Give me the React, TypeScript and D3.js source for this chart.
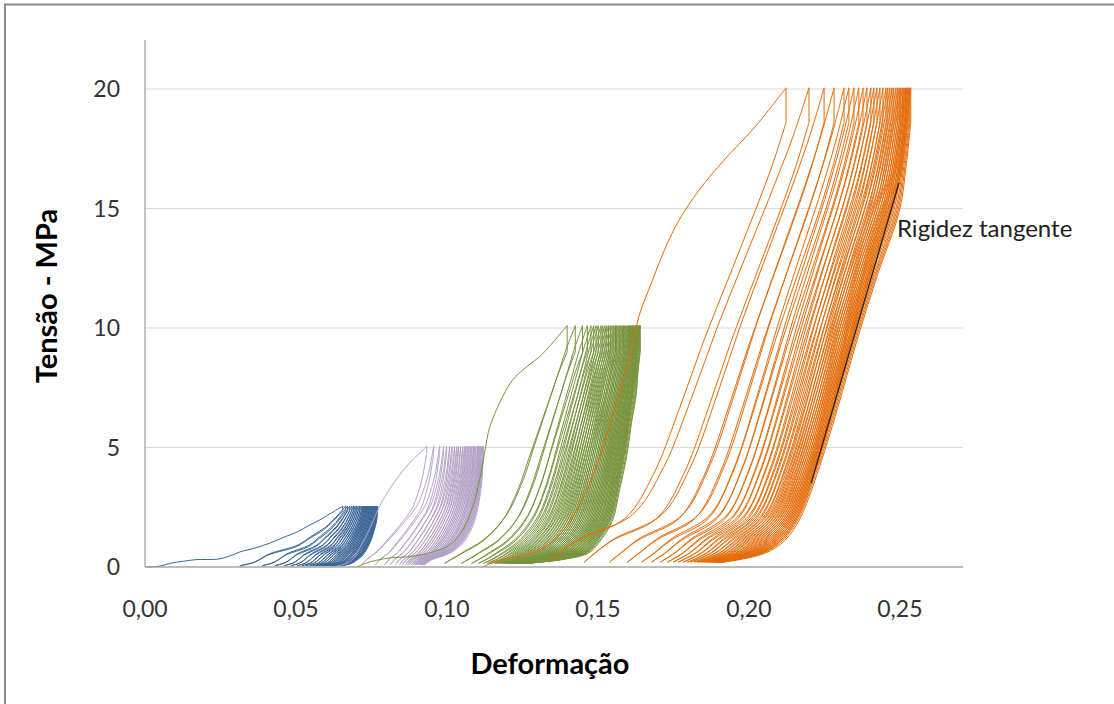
import React from 'react';
import * as d3 from 'd3';

// ---------- axes ----------
const X_MAX = 0.2709;
const Y_MAX = 22.05;
const xTickValues = [0, 0.05, 0.1, 0.15, 0.2, 0.25];
const yTickValues = [0, 5, 10, 15, 20];

// normalized stress grid for loop shapes (0 = min stress, 1 = top stress)
const V_GRID = [0, 0.02, 0.05, 0.1, 0.2, 0.35, 0.5, 0.65, 0.8, 0.9, 1];

// ---------- blue (2,5 MPa) ----------
const blueVirgin = [[0, 0], [0.005, 0.04], [0.0089, 0.17], [0.0132, 0.25], [0.0172, 0.31], [0.0241, 0.33], [0.0281, 0.46], [0.0314, 0.63], [0.0364, 0.79], [0.0413, 1.0], [0.0463, 1.26], [0.0503, 1.46], [0.0546, 1.76], [0.0579, 1.97], [0.0612, 2.22], [0.0655, 2.55]];
const bluePeaks = [0.0655, 0.0665, 0.0671, 0.0678, 0.0685, 0.0691, 0.0696, 0.0701, 0.0706, 0.0711, 0.0716, 0.0721, 0.0724, 0.0728, 0.0731, 0.0734, 0.0737, 0.0741, 0.0744, 0.0747, 0.0751, 0.0754, 0.0757, 0.0761, 0.0764, 0.0767, 0.0769, 0.077];
const blueValleys = [0.0314, 0.0387, 0.043, 0.046, 0.0483, 0.0503, 0.0519, 0.0532, 0.0546, 0.0556, 0.0565, 0.0575, 0.0582, 0.0589, 0.0595, 0.0602, 0.0608, 0.0612, 0.0618, 0.0622, 0.0625, 0.0632, 0.0635, 0.0638, 0.0642, 0.0645, 0.0648, 0.0651];
const blueShapeEarly = [0, 0.05, 0.12, 0.18, 0.28, 0.55, 0.68, 0.81, 0.9, 0.95, 1];
const blueShapeLate = [0, 0.15, 0.3, 0.42, 0.6, 0.74, 0.84, 0.91, 0.97, 0.99, 1];

// ---------- purple (5 MPa) ----------
const purpleVirgin = [[0.0612, 0], [0.0651, 0.08], [0.0685, 0.29], [0.0711, 0.8], [0.0734, 1.34], [0.0754, 1.88], [0.0777, 2.55], [0.081, 3.26], [0.0843, 3.85], [0.0876, 4.35], [0.0903, 4.69], [0.0933, 5.05]];
const purplePeaks = [0.0933, 0.0956, 0.0976, 0.0989, 0.0999, 0.1009, 0.1017, 0.1025, 0.1032, 0.1038, 0.1045, 0.1052, 0.1058, 0.1063, 0.1068, 0.1073, 0.1078, 0.1083, 0.1088, 0.1091, 0.1096, 0.1101, 0.1104, 0.1108, 0.1111, 0.1114, 0.1118, 0.1121];
const purpleValleys = [0.0718, 0.0764, 0.0794, 0.0813, 0.083, 0.0843, 0.0853, 0.0863, 0.087, 0.0876, 0.0883, 0.0888, 0.0893, 0.0896, 0.0899, 0.0903, 0.0906, 0.0909, 0.0911, 0.0913, 0.0914, 0.0916, 0.0918, 0.0919, 0.0921, 0.0923, 0.0924, 0.0926];
const purpleShapeEarly = [0, 0.03, 0.08, 0.2, 0.36, 0.58, 0.77, 0.87, 0.94, 0.97, 1];
const purpleShapeLate = [0, 0.05, 0.15, 0.42, 0.66, 0.82, 0.9, 0.95, 0.98, 0.99, 1];

// ---------- green (10 MPa) ----------
const greenVirgin = [[0.0701, 0], [0.0744, 0.21], [0.081, 0.38], [0.0866, 0.42], [0.0942, 0.59], [0.1009, 0.92], [0.1052, 1.55], [0.1085, 2.51], [0.1108, 3.64], [0.1128, 5.02], [0.1141, 5.82], [0.1174, 6.86], [0.1217, 7.82], [0.1263, 8.37], [0.1306, 8.79], [0.1349, 9.37], [0.1398, 10.1]];
const greenPeaks = [0.1398, 0.1425, 0.1449, 0.1465, 0.1477, 0.1486, 0.1494, 0.1501, 0.151, 0.1516, 0.1523, 0.1529, 0.1535, 0.1541, 0.1547, 0.1553, 0.1558, 0.1562, 0.1567, 0.1572, 0.1576, 0.1581, 0.1585, 0.1589, 0.1593, 0.1597, 0.1601, 0.1604, 0.1607, 0.161, 0.1613, 0.1615, 0.1618, 0.162, 0.1624, 0.1626, 0.1628, 0.163, 0.1632, 0.1635, 0.1637, 0.1639, 0.164];
const greenValleys = [0.0992, 0.1048, 0.1081, 0.1104, 0.1121, 0.1134, 0.1146, 0.1156, 0.1164, 0.1172, 0.1179, 0.1186, 0.1192, 0.1197, 0.1202, 0.1207, 0.121, 0.1214, 0.1217, 0.122, 0.1224, 0.1226, 0.1228, 0.1231, 0.1233, 0.1235, 0.1237, 0.1239, 0.1241, 0.1243, 0.1245, 0.1247, 0.1248, 0.125, 0.1251, 0.1253, 0.1254, 0.1255, 0.1257, 0.1258, 0.1259, 0.1261, 0.1262];
const greenShapeEarly = [0, 0.06, 0.15, 0.3, 0.47, 0.6, 0.69, 0.78, 0.87, 0.93, 1];
const greenShapeLate = [0, 0.34, 0.55, 0.64, 0.755, 0.82, 0.88, 0.92, 0.965, 0.98, 1];

// ---------- orange (20 MPa) ----------
const orangeVirgin = [[0.1118, 0], [0.1174, 0.29], [0.124, 0.46], [0.1306, 0.71], [0.1356, 1.13], [0.1405, 1.88], [0.1455, 3.01], [0.1505, 4.56], [0.1554, 6.57], [0.1604, 8.74], [0.1637, 10.54], [0.1677, 11.88], [0.172, 13.26], [0.1769, 14.52], [0.1835, 15.77], [0.1918, 17.03], [0.2017, 18.37], [0.2123, 20.05]];
const orangePeaks = [0.2123, 0.2199, 0.2249, 0.2282, 0.2315, 0.2331, 0.2348, 0.2364, 0.2378, 0.2391, 0.2404, 0.2414, 0.2424, 0.2434, 0.2444, 0.2454, 0.246, 0.2467, 0.2474, 0.248, 0.2487, 0.2493, 0.2498, 0.2503, 0.2508, 0.2513, 0.2517, 0.252, 0.2523, 0.2527, 0.253, 0.2533, 0.2536];
const orangeValleys = [0.1339, 0.1455, 0.1538, 0.1597, 0.1644, 0.1677, 0.1706, 0.173, 0.1749, 0.1766, 0.1782, 0.1796, 0.1807, 0.1819, 0.1829, 0.1837, 0.1845, 0.1852, 0.1858, 0.1865, 0.187, 0.1875, 0.188, 0.1885, 0.1888, 0.1892, 0.1895, 0.1898, 0.1901, 0.1905, 0.1908, 0.1911, 0.1915];
const orangeShapeEarly = [0, 0.04, 0.12, 0.32, 0.44, 0.55, 0.65, 0.76, 0.87, 0.94, 1];
const orangeShapeLate = [0, 0.22, 0.33, 0.41, 0.5, 0.61, 0.71, 0.82, 0.94, 0.975, 1];

// tangent stiffness annotation
const tangentLine = [[0.2206, 3.51], [0.2497, 16.07]];
const annotationText = 'Rigidez tangente';

const SERIES = [
  { color: '#3A6596', virgin: blueVirgin, peaks: bluePeaks, valleys: blueValleys, early: blueShapeEarly, late: blueShapeLate, top: 2.55, drop: 2.35, min: 0.05 },
  { color: '#B3A2C7', virgin: purpleVirgin, peaks: purplePeaks, valleys: purpleValleys, early: purpleShapeEarly, late: purpleShapeLate, top: 5.05, drop: 4.75, min: 0.1 },
  { color: '#77933C', virgin: greenVirgin, peaks: greenPeaks, valleys: greenValleys, early: greenShapeEarly, late: greenShapeLate, top: 10.1, drop: 9.0, min: 0.15 },
  { color: '#E46C0A', virgin: orangeVirgin, peaks: orangePeaks, valleys: orangeValleys, early: orangeShapeEarly, late: orangeShapeLate, top: 20.05, drop: 18.6, min: 0.2 },
];

const FONT = 'Lato, "Open Sans", sans-serif';

export default function App() {
  const x = d3.scaleLinear().domain([0, X_MAX]).range([145, 963]);
  const y = d3.scaleLinear().domain([0, Y_MAX]).range([567, 40]);
  const line = d3
    .line<number[]>()
    .x((d) => x(d[0]))
    .y((d) => y(d[1]))
    .curve(d3.curveCatmullRom.alpha(0.5));
  const straight = d3
    .line<number[]>()
    .x((d) => x(d[0]))
    .y((d) => y(d[1]));

  const fmt = (v: number) => d3.format('.2f')(v).replace('.', ',');

  const paths = SERIES.map((s) => {
    const n = s.peaks.length;
    const shape = (i: number) => {
      const t = Math.max(0, Math.min(1, i / (n - 1)));
      return s.early.map((e, k) => e * (1 - t) + s.late[k] * t);
    };
    const branch = (valley: number, peak: number, topS: number, u: number[]) =>
      V_GRID.map((v, k) => [valley + (peak - valley) * u[k], s.min + (topS - s.min) * v]);
    let d = line(s.virgin) || '';
    for (let i = 0; i < n; i++) {
      const p = s.peaks[i];
      const q = s.valleys[i];
      if (i > 0) {
        d += line(branch(s.valleys[i - 1], p, s.top, shape(i - 1))) || '';
      }
      d += straight([[p, s.top], [p, s.drop]]) || '';
      d += line(branch(q, p, s.drop, shape(i))) || '';
    }
    return { d, color: s.color };
  });

  return (
    <svg
      width={1114}
      height={704}
      style={{ position: 'absolute', left: 0, top: 0, display: 'block', background: '#fff' }}
    >
      <rect x={0} y={0} width={1114} height={704} fill="#fff" />
      <rect x={5} y={4.5} width={1130} height={720} fill="none" stroke="#8a8a8a" strokeWidth={2} />

      {/* gridlines */}
      {yTickValues.filter((v) => v > 0).map((v) => (
        <line key={'g' + v} x1={x(0)} x2={963} y1={y(v)} y2={y(v)} stroke="#DADADA" strokeWidth={1} />
      ))}
      {/* axes */}
      <line x1={x(0)} x2={x(0)} y1={40} y2={y(0)} stroke="#A6A6A6" strokeWidth={1.3} />

      {/* data */}
      {paths.map((p, i) => (
        <path key={i} d={p.d} fill="none" stroke={p.color} strokeWidth={1} strokeLinejoin="round" />
      ))}

      <line x1={x(0)} x2={963} y1={y(0)} y2={y(0)} stroke="#A6A6A6" strokeWidth={1.3} />

      {/* tangent line */}
      <path d={straight(tangentLine) || ''} stroke="#222" strokeWidth={1.3} fill="none" />
      <text x={897} y={237} fontFamily={FONT} fontSize={24} fill="#222">
        {annotationText}
      </text>

      {/* tick labels */}
      {yTickValues.map((v) => (
        <text key={'y' + v} x={120} y={y(v)} dy="0.35em" textAnchor="end" fontFamily={FONT} fontSize={23} fill="#333">
          {v}
        </text>
      ))}
      {xTickValues.map((v) => (
        <text key={'x' + v} x={x(v)} y={617} textAnchor="middle" fontFamily={FONT} fontSize={23} fill="#333">
          {fmt(v)}
        </text>
      ))}

      {/* axis titles */}
      <text x={550} y={674} textAnchor="middle" fontFamily={FONT} fontWeight="bold" fontSize={29} fill="#000">
        Deformação
      </text>
      <text
        transform={`translate(57, 296) rotate(-90)`}
        textAnchor="middle"
        fontFamily={FONT}
        fontWeight="bold"
        fontSize={29}
        fill="#000"
      >
        Tensão - MPa
      </text>
    </svg>
  );
}
